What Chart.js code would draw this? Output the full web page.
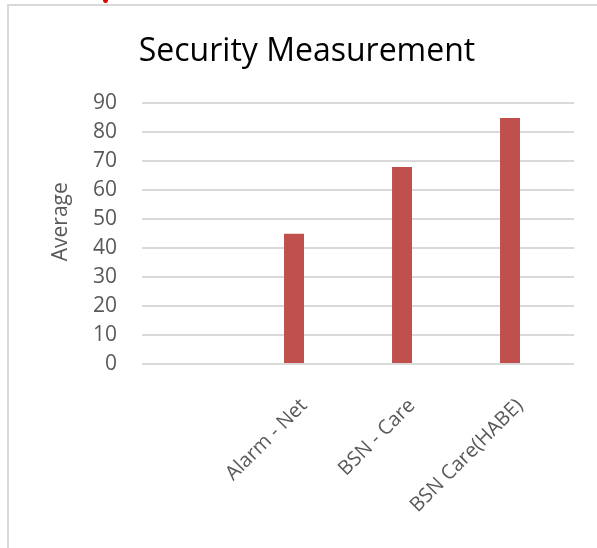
<!DOCTYPE html>
<html>
<head>
<meta charset="utf-8">
<script src="https://cdn.jsdelivr.net/npm/chart.js@4"></script>
<style>
  html, body { margin: 0; padding: 0; background: #fff; }
  #wrap { position: relative; width: 597px; height: 548px; overflow: hidden; }
  #chart { position: absolute; left: 0; top: 0; }
  .frame-top { position: absolute; left: 7px; top: 4px; width: 590px; height: 2px; background: #d9d9d9; }
  .frame-left { position: absolute; left: 7px; top: 4px; width: 2px; height: 544px; background: #d9d9d9; }
  .mark { position: absolute; left: 103px; top: -3px; width: 5px; height: 6px; border-radius: 50%; background: #e00000; }
</style>
</head>
<body>
<div id="wrap">
  <canvas id="chart" width="597" height="548"></canvas>
  <div class="frame-top"></div>
  <div class="frame-left"></div>
  <div class="mark"></div>
</div>
<script>
// Categories along the x axis (the first slot is left blank)
const categories = ['', 'Alarm - Net', 'BSN - Care', 'BSN Care(HABE)'];
// Average security score per scheme
const averages = [null, 45, 68, 85];
// Second series slot, left empty
const emptySeries = [null, null, null, null];
// Value axis ticks
const yTicks = [0, 10, 20, 30, 40, 50, 60, 70, 80, 90];
const yAxisTitle = 'Average';

const FONT = "'Open Sans', 'Liberation Sans', sans-serif";
const TEXT = '#595959';

// Vertical axis title, drawn a little above the plot's midpoint
const axisTitlePlugin = {
  id: 'axisTitle',
  afterDraw(chart) {
    const { ctx, chartArea } = chart;
    const cy = (chartArea.top + chartArea.bottom) / 2 - 12;
    ctx.save();
    ctx.translate(61, cy);
    ctx.rotate(-Math.PI / 2);
    ctx.fillStyle = TEXT;
    ctx.font = `21px ${FONT}`;
    ctx.textAlign = 'center';
    ctx.textBaseline = 'middle';
    ctx.fillText(yAxisTitle, 0, 0);
    ctx.restore();
  }
};

new Chart(document.getElementById('chart'), {
  type: 'bar',
  data: {
    labels: categories,
    datasets: [
      {
        label: yAxisTitle,
        data: averages,
        backgroundColor: '#C0504D',
        borderWidth: 0,
        categoryPercentage: 0.37,
        barPercentage: 1.0
      },
      {
        label: '',
        data: emptySeries,
        backgroundColor: '#4F81BD',
        categoryPercentage: 0.37,
        barPercentage: 1.0
      }
    ]
  },
  options: {
    responsive: false,
    animation: false,
    devicePixelRatio: 1,
    layout: { padding: { left: 40, right: 23, top: 0, bottom: 0 } },
    plugins: {
      legend: { display: false },
      tooltip: { enabled: false },
      title: {
        display: true,
        text: 'Security Measurement',
        color: '#000',
        font: { family: FONT, size: 32, weight: 'normal' },
        padding: { top: 33, bottom: 32 }
      }
    },
    scales: {
      x: {
        grid: { display: false },
        border: { display: false },
        ticks: {
          color: TEXT,
          font: { family: FONT, size: 20 },
          minRotation: 45,
          maxRotation: 45,
          autoSkip: false,
          padding: 22
        },
        afterFit: (s) => { s.height = 184; }
      },
      y: {
        min: 0,
        max: 90,
        afterBuildTicks: (s) => { s.ticks = yTicks.map(v => ({ value: v })); },
        grid: { color: '#d9d9d9', lineWidth: 2, drawTicks: false },
        border: { display: false },
        ticks: {
          color: TEXT,
          font: { family: FONT, size: 21 },
          padding: 25
        },
        afterFit: (s) => { s.width = 102; }
      }
    }
  },
  plugins: [axisTitlePlugin]
});
</script>
</body>
</html>
